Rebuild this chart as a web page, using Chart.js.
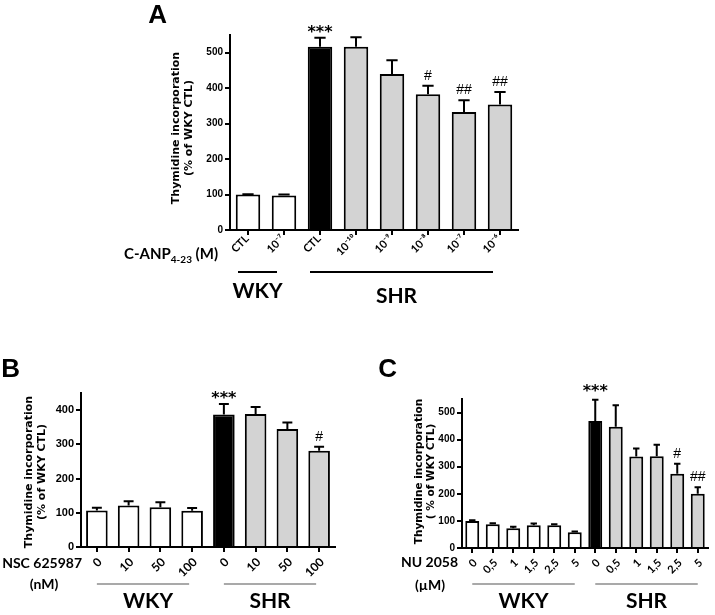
<!DOCTYPE html>
<html>
<head>
<meta charset="utf-8">
<script src="https://cdn.jsdelivr.net/npm/chart.js@4"></script>
<style>
  body { margin: 0; background: #fff; width: 715px; height: 615px; position: relative; overflow: hidden; }
  canvas { position: absolute; }
</style>
</head>
<body>
<canvas id="chartA" width="715" height="345" style="left:0px;top:0px"></canvas>
<canvas id="chartB" width="355" height="265" style="left:0px;top:350px"></canvas>
<canvas id="chartC" width="365" height="265" style="left:350px;top:350px"></canvas>
<script>
// --- Panel A : C-ANP4-23 ---
const labelsA = ['CTL', '10⁻⁷', 'CTL', '10⁻¹⁰', '10⁻⁹', '10⁻⁸', '10⁻⁷', '10⁻⁶'];
const valuesA = [100, 97, 517, 517, 440, 383, 333, 354];
const errorsA = [1, 3, 25, 27, 39, 24, 33, 35];
const marksA  = ['', '', '***', '', '', '#', '##', '##'];
const wkyCountA = 2;

// --- Panel B : NSC 625987 ---
const labelsB = ['0', '10', '50', '100', '0', '10', '50', '100'];
const valuesB = [107, 121, 116, 106, 387, 389, 345, 281];
const errorsB = [8, 13, 15, 8, 31, 20, 19, 12];
const marksB  = ['', '', '', '', '***', '', '', '#'];
const wkyCountB = 4;

// --- Panel C : NU 2058 ---
const labelsC = ['0', '0,5', '1', '1,5', '2,5', '5', '0', '0,5', '1', '1,5', '2,5', '5'];
const valuesC = [100, 88, 73, 84, 84, 58, 469, 448, 338, 339, 274, 200];
const errorsC = [2, 3, 5, 6, 4, 3, 78, 79, 29, 42, 37, 24];
const marksC  = ['', '', '', '', '', '', '***', '', '', '', '#', '##'];
const wkyCountC = 6;

const groupNames = ['WKY', 'SHR'];
const yTitleLines = ['Thymidine incorporation', '(% of WKY CTL)'];

const SANS = "'Liberation Sans', Arial, sans-serif";
const HUM = "Lato, 'DejaVu Sans', sans-serif";
const DJ = "'DejaVu Sans', sans-serif";

// blanc = WKY, noir = SHR contrôle, gris = SHR traité
function barColors(n, nWky) {
  return Array.from({ length: n }, (_, i) => i < nWky ? '#ffffff' : (i === nWky ? '#000000' : '#d3d3d3'));
}

function makeExtras(cfg) {
  return {
    id: 'extras',
    afterDatasetsDraw(chart) {
      const { ctx } = chart;
      const y = chart.scales.y;
      const meta = chart.getDatasetMeta(0);
      ctx.save();
      ctx.strokeStyle = '#000';
      ctx.fillStyle = '#000';
      ctx.lineWidth = 2;
      meta.data.forEach((bar, i) => {
        const top = y.getPixelForValue(cfg.values[i] + cfg.errors[i]);
        const half = bar.width * 0.23;
        ctx.beginPath();
        ctx.moveTo(bar.x, bar.y);
        ctx.lineTo(bar.x, top);
        ctx.moveTo(bar.x - half, top);
        ctx.lineTo(bar.x + half, top);
        ctx.stroke();
        const m = cfg.marks[i];
        if (m) {
          ctx.textAlign = 'center';
          ctx.textBaseline = 'alphabetic';
          if (m[0] === '*') {
            ctx.font = `bold 16px ${DJ}`;
            ctx.fillText(m, bar.x, top - cfg.starGap);
          } else {
            ctx.font = `14px ${SANS}`;
            ctx.fillText(m, bar.x, top - 6);
          }
        }
      });
      ctx.restore();
    },
    afterDraw(chart) {
      const { ctx } = chart;
      const x = chart.scales.x;
      ctx.save();
      ctx.fillStyle = '#000';

      // étiquettes X inclinées à 45°
      ctx.font = cfg.xLabel.font;
      ctx.textAlign = 'right';
      ctx.textBaseline = 'middle';
      chart.data.labels.forEach((lab, i) => {
        ctx.save();
        ctx.translate(x.getPixelForValue(i) + cfg.xLabel.dx, x.top + cfg.xLabel.dy);
        ctx.rotate(-Math.PI / 4);
        ctx.fillText(lab, 0, 0);
        ctx.restore();
      });

      // titre de l'axe Y
      ctx.font = cfg.yTitle.font;
      ctx.textAlign = 'center';
      ctx.textBaseline = 'middle';
      yTitleLines.forEach((line, k) => {
        ctx.save();
        ctx.translate(cfg.yTitle.xs[k], cfg.yTitle.cy);
        ctx.rotate(-Math.PI / 2);
        ctx.fillText(k === 1 ? cfg.yTitle.second : line, 0, 0);
        ctx.restore();
      });

      // lettre du panneau
      ctx.font = `bold 26px ${SANS}`;
      ctx.textAlign = 'right';
      ctx.textBaseline = 'alphabetic';
      ctx.fillText(cfg.letter, cfg.letterX, cfg.letterY);

      // légende de l'axe X (avec indice éventuel)
      ctx.textAlign = 'left';
      cfg.xTitle.forEach(t => {
        let total = 0;
        t.parts.forEach(p => { ctx.font = `bold ${p[1]}px ${HUM}`; total += ctx.measureText(p[0]).width; });
        let cx = t.align === 'right' ? t.x - total : (t.align === 'center' ? t.x - total / 2 : t.x);
        t.parts.forEach(p => {
          ctx.font = `bold ${p[1]}px ${HUM}`;
          ctx.fillText(p[0], cx, t.y + (p[2] || 0));
          cx += ctx.measureText(p[0]).width;
        });
      });

      // groupes WKY / SHR
      const g = cfg.groups;
      const ranges = [[0, cfg.nWky - 1], [cfg.nWky, cfg.values.length - 1]];
      ranges.forEach((r, k) => {
        const x0 = x.getPixelForValue(r[0]) + g.dx[0];
        const x1 = x.getPixelForValue(r[1]) + g.dx[1];
        ctx.strokeStyle = g.color;
        ctx.lineWidth = g.lineW;
        ctx.beginPath();
        ctx.moveTo(x0, g.y);
        ctx.lineTo(x1, g.y);
        ctx.stroke();
        ctx.font = `bold 21px ${HUM}`;
        ctx.textAlign = 'center';
        ctx.fillText(groupNames[k], (x0 + x1) / 2 + g.textDx[k], g.textY[k]);
      });
      ctx.restore();
    }
  };
}

function makePanel(cfg) {
  const a = cfg.area;
  return new Chart(document.getElementById(cfg.id), {
    type: 'bar',
    data: {
      labels: cfg.labels,
      datasets: [{
        data: cfg.values,
        backgroundColor: barColors(cfg.values.length, cfg.nWky),
        borderColor: '#000',
        borderWidth: 2,
        barPercentage: 0.68,
        categoryPercentage: 1
      }]
    },
    options: {
      responsive: false,
      animation: false,
      devicePixelRatio: 1,
      layout: {
        padding: { left: a.left - cfg.axisW, top: a.top, right: cfg.W - a.right, bottom: cfg.H - a.bottom - cfg.axisH }
      },
      plugins: { legend: { display: false }, tooltip: { enabled: false } },
      scales: {
        x: {
          grid: { display: true, drawOnChartArea: false, offset: false, color: '#000', tickColor: '#000', lineWidth: 2, tickWidth: 2, tickLength: 5 },
          border: { display: true, color: '#000', width: 2 },
          // les étiquettes sont dessinées à 45° par le plugin
          ticks: { color: 'rgba(0,0,0,0)', autoSkip: false, maxRotation: 0 },
          afterFit: s => { s.height = cfg.axisH; }
        },
        y: {
          min: 0,
          max: cfg.yMax,
          grid: { display: true, drawOnChartArea: false, color: '#000', tickColor: '#000', lineWidth: 2, tickWidth: 2, tickLength: 5 },
          border: { display: true, color: '#000', width: 2 },
          ticks: { stepSize: 100, color: '#000', font: cfg.yTickFont, padding: 2 },
          afterBuildTicks: s => { s.ticks = s.ticks.filter(t => t.value % 100 === 0); },
          afterFit: s => { s.width = cfg.axisW; }
        }
      }
    },
    plugins: [makeExtras(cfg)]
  });
}

makePanel({
  id: 'chartA', W: 715, H: 345,
  area: { left: 230, top: 35, right: 518, bottom: 230 },
  axisW: 50, axisH: 30, yMax: 550,
  labels: labelsA, values: valuesA, errors: errorsA, marks: marksA, nWky: wkyCountA,
  yTickFont: { family: SANS, size: 10, weight: 'bold' },
  xLabel: { font: `bold 11px ${HUM}`, dx: -1, dy: 7 },
  yTitle: { xs: [176, 189], cy: 128, font: `bold 11px ${DJ}`, second: '(% of WKY CTL)' },
  letter: 'A', letterX: 167, letterY: 23,
  starGap: 1,
  xTitle: [{ parts: [['C-ANP', 15], ['4-23', 10, 4], [' (M)', 15]], x: 218, y: 259, align: 'right' }],
  groups: { y: 272, lineW: 2, color: '#000', dx: [-10, -7], textY: [298, 303], textDx: [0, -5] }
});

makePanel({
  id: 'chartB', W: 355, H: 265,
  area: { left: 81, top: 43, right: 335, bottom: 197 },
  axisW: 45, axisH: 30, yMax: 450,
  labels: labelsB, values: valuesB, errors: errorsB, marks: marksB, nWky: wkyCountB,
  yTickFont: { family: SANS, size: 11, weight: 'bold' },
  xLabel: { font: `bold 12px ${HUM}`, dx: 3, dy: 13 },
  yTitle: { xs: [29, 42.5], cy: 122, font: `bold 11px ${DJ}`, second: '(% of WKY CTL)' },
  letter: 'B', letterX: 20, letterY: 27,
  starGap: 1,
  xTitle: [
    { parts: [['NSC 625987', 14]], x: 82, y: 218, align: 'right' },
    { parts: [['(nM)', 14]], x: 44, y: 239, align: 'center' }
  ],
  groups: { y: 234, lineW: 1.2, color: '#555', dx: [0, -3], textY: [258, 258], textDx: [5, 0] }
});

makePanel({
  id: 'chartC', W: 365, H: 265,
  area: { left: 112, top: 49, right: 358, bottom: 198 },
  axisW: 45, axisH: 30, yMax: 550,
  labels: labelsC, values: valuesC, errors: errorsC, marks: marksC, nWky: wkyCountC,
  yTickFont: { family: SANS, size: 10, weight: 'bold' },
  xLabel: { font: `bold 11px ${HUM}`, dx: 3, dy: 13 },
  yTitle: { xs: [69.5, 81.5], cy: 121.5, font: `bold 10.5px ${DJ}`, second: '( % of WKY CTL)' },
  letter: 'C', letterX: 47, letterY: 27,
  starGap: 4,
  xTitle: [
    { parts: [['NU 2058', 14]], x: 108, y: 217, align: 'right' },
    { parts: [['(µM)', 14]], x: 80, y: 240, align: 'center' }
  ],
  groups: { y: 234, lineW: 1.2, color: '#555', dx: [0, 0], textY: [258, 258], textDx: [0, 0] }
});
</script>
</body>
</html>
